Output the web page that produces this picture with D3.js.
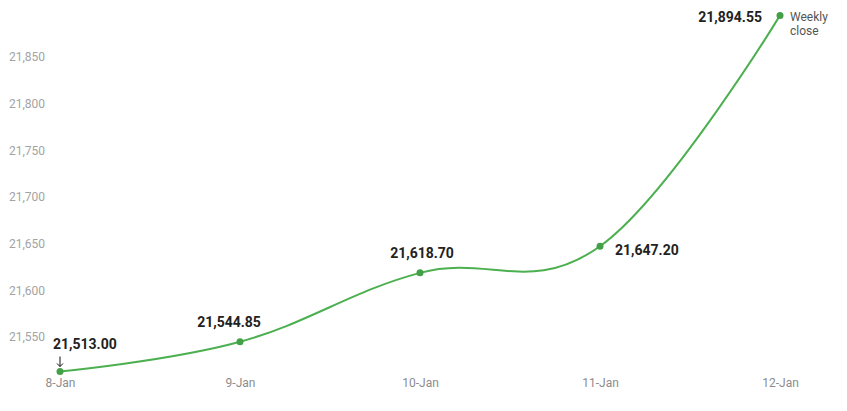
<!DOCTYPE html>
<html>
<head>
<meta charset="utf-8">
<script src="https://cdn.jsdelivr.net/npm/d3@7"></script>
<style>
  body { margin: 0; background: #fff; }
  svg { display: block; font-family: Roboto, sans-serif; }
</style>
</head>
<body>
<script>
// chart data
const days = ['8-Jan', '9-Jan', '10-Jan', '11-Jan', '12-Jan'];
const closes = [21513.00, 21544.85, 21618.70, 21647.20, 21894.55];
const yTicks = [21550, 21600, 21650, 21700, 21750, 21800, 21850];

const width = 847, height = 411;
const svg = d3.select('body').append('svg')
    .attr('width', width).attr('height', height);

const x = d3.scalePoint().domain(days).range([60, 780]);
const y = d3.scaleLinear().domain([21510, 21900]).range([374.3, 10.3]);

// y axis labels
svg.append('g')
    .attr('transform', 'translate(45,0)')
    .call(d3.axisLeft(y).tickValues(yTicks).tickSize(0).tickPadding(0)
        .tickFormat(d3.format(',')))
    .call(g => g.select('.domain').remove())
    .selectAll('text')
        .style('font-family', 'Roboto, sans-serif')
        .style('font-size', '12px')
        .attr('fill', '#a3a3a3');

// x axis labels
svg.append('g')
    .attr('transform', 'translate(0,378)')
    .call(d3.axisBottom(x).tickSize(0).tickPadding(0))
    .call(g => g.select('.domain').remove())
    .selectAll('text')
        .style('font-family', 'Roboto, sans-serif')
        .style('font-size', '12px')
        .attr('fill', '#8c8c8c');

const pts = days.map((d, i) => [x(d), y(closes[i])]);

svg.append('path')
    .datum(pts)
    .attr('fill', 'none')
    .attr('stroke', '#4caf50')
    .attr('stroke-width', 2)
    .attr('d', d3.line().curve(d3.curveCardinal.tension(-0.15)));

svg.selectAll('.dot')
    .data(pts)
    .join('circle')
    .attr('class', 'dot')
    .attr('cx', d => d[0])
    .attr('cy', d => d[1])
    .attr('r', 3.5)
    .attr('fill', '#43a047');

// value labels: offsets relative to the point
const lab = [
    {dx: -7, dy: -23, anchor: 'start'},
    {dx: -11, dy: -15, anchor: 'middle'},
    {dx: 2, dy: -15, anchor: 'middle'},
    {dx: 15, dy: 9, anchor: 'start'},
    {dx: -18, dy: 7, anchor: 'end'}
];
const fmt = d3.format(',.2f');

svg.selectAll('.val')
    .data(pts)
    .join('text')
    .attr('class', 'val')
    .attr('x', (d, i) => d[0] + lab[i].dx)
    .attr('y', (d, i) => d[1] + lab[i].dy)
    .attr('text-anchor', (d, i) => lab[i].anchor)
    .style('font-size', '14px')
    .style('font-weight', 700)
    .attr('fill', '#222')
    .text((d, i) => fmt(closes[i]));

// arrow above first point
const ax = pts[0][0], ay = pts[0][1];
svg.append('path')
    .attr('d', `M${ax},${ay - 15}V${ay - 5}M${ax - 3},${ay - 8}L${ax},${ay - 5}L${ax + 3},${ay - 8}`)
    .attr('fill', 'none')
    .attr('stroke', '#111')
    .attr('stroke-width', 1);

// series label at the end
const sl = svg.append('text')
    .attr('x', pts[4][0] + 10)
    .attr('y', pts[4][1] + 6)
    .style('font-size', '12px')
    .attr('fill', '#555');
sl.append('tspan').attr('x', pts[4][0] + 10).attr('dy', 0).text('Weekly');
sl.append('tspan').attr('x', pts[4][0] + 10).attr('dy', '1.15em').text('close');
</script>
</body>
</html>
